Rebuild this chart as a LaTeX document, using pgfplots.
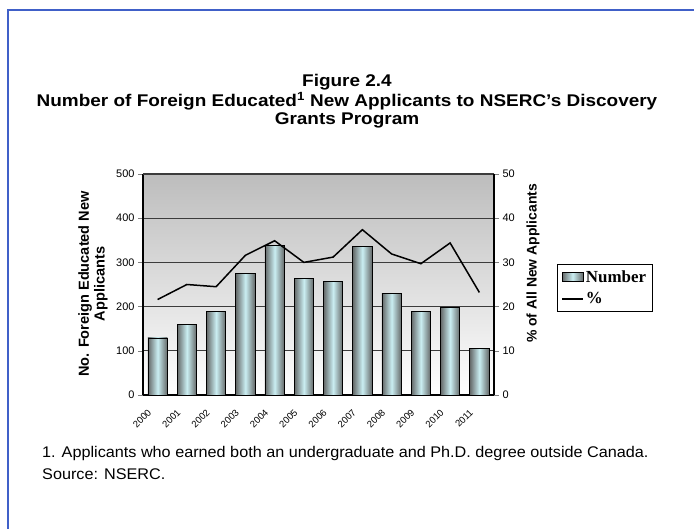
\documentclass[border=0pt]{standalone}
\usepackage{fontspec}
\setmainfont{Liberation Sans}
\newfontfamily\titlefont[FakeStretch=1.12]{Liberation Sans}
\newfontfamily\notefont[FakeStretch=1.05]{Liberation Sans}
\newfontfamily\legfont{Liberation Serif}
\usepackage{pgfplots}
\pgfplotsset{compat=1.18}
\definecolor{frameblue}{RGB}{64,96,200}
\definecolor{barcyan}{RGB}{202,238,242}
\definecolor{bardark}{RGB}{100,104,104}
\definecolor{gridgray}{RGB}{60,60,60}

\pgfplotsset{
  twoaxes/.style={
    at={(O)}, anchor=south west,
    width=351bp, height=221bp, scale only axis,
    xmin=-0.5, xmax=11.5,
    ymin=0,
    tick align=outside,
    major tick length=5bp,
    /pgf/number format/assume math mode=true,
    ticklabel style={font=\fontsize{11}{13}\selectfont},
  },
  cylbar/.style={ybar, bar width=19.3bp, bar shift=0pt, draw=black, line width=0.8bp,
    left color=bardark, right color=bardark, middle color=barcyan},
}

\begin{document}
\begin{tikzpicture}[x=1bp,y=1bp]
\useasboundingbox (0,0) rectangle (694,529);
\draw[frameblue, line width=2bp] (8,-5) -- (8,519) -- (700,519);
\coordinate (O) at (143,134);

% title
\node[font=\titlefont\bfseries\fontsize{17}{20}\selectfont] at (347,447) {Figure 2.4};
\node[font=\titlefont\bfseries\fontsize{17}{20}\selectfont] at (347,428) {Number of Foreign Educated\textsuperscript{1} New Applicants to NSERC’s Discovery};
\node[font=\titlefont\bfseries\fontsize{17}{20}\selectfont] at (347,409) {Grants Program};

% bars, left axis
\begin{axis}[twoaxes,
  ymax=500,
  ytick={0,100,...,500},
  axis y line*=left,
  axis x line*=bottom,
  ymajorgrids,
  grid style={gridgray, line width=1bp},
  axis background/.style={top color=black!26, bottom color=white},
  axis line style={black, line width=1.2bp},
  xtick={0,...,11},
  xticklabels={2000,2001,2002,2003,2004,2005,2006,2007,2008,2009,2010,2011},
  x tick style={draw=none},
  xticklabel style={xshift=-10.5bp, yshift=-7bp, rotate=45, anchor=north east,
    font=\fontsize{9.5}{11}\selectfont, inner sep=1bp},
]
\addplot[cylbar] coordinates {(0,129)};
\addplot[cylbar] coordinates {(1,160)};
\addplot[cylbar] coordinates {(2,188)};
\addplot[cylbar] coordinates {(3,275)};
\addplot[cylbar] coordinates {(4,339)};
\addplot[cylbar] coordinates {(5,264)};
\addplot[cylbar] coordinates {(6,257)};
\addplot[cylbar] coordinates {(7,337)};
\addplot[cylbar] coordinates {(8,230)};
\addplot[cylbar] coordinates {(9,190)};
\addplot[cylbar] coordinates {(10,199)};
\addplot[cylbar] coordinates {(11,105)};
\draw[gridgray, line width=1.2bp] (rel axis cs:0,1) -- (rel axis cs:1,1);
\end{axis}

% percentage line, right axis
\begin{axis}[twoaxes,
  ymax=50,
  ytick={0,10,...,50},
  axis y line*=right,
  axis x line=none,
  axis line style={black, line width=1.2bp},
  legend style={at={(1.1795,0.593)}, anchor=north west, draw=black, line width=0.8bp,
    font=\legfont\bfseries\fontsize{17}{19}\selectfont, inner xsep=4bp, inner ysep=4bp,
    row sep=5bp, cells={anchor=west}},
]
\addlegendimage{legend image code/.code={
    \draw[draw=black, line width=0.6bp, left color=bardark, right color=bardark, middle color=barcyan]
      (0bp,-4.5bp) rectangle (21bp,4.5bp);}}
\addlegendentry{Number}
\addplot[black, line width=1.5bp,
  legend image code/.code={\draw[black, line width=1.5bp] (0bp,0bp) -- (21bp,0bp);}]
  coordinates {(0,21.6) (1,25.0) (2,24.5) (3,31.6) (4,34.9) (5,30.0)
               (6,31.2) (7,37.4) (8,31.9) (9,29.7) (10,34.4) (11,23.2)};
\addlegendentry{\%}
\end{axis}

% axis titles
\node[rotate=90, align=center, font=\bfseries\fontsize{14.6}{16}\selectfont] at (93,245)
  {No. Foreign Educated New\\Applicants};
\node[rotate=90, font=\bfseries\fontsize{14}{16}\selectfont] at (533,265.5)
  {\% of All New Applicants};

% footnote
\node[anchor=west, inner sep=0pt, font=\notefont\fontsize{15.5}{17}\selectfont] at (42,75) {1. Applicants who earned both an undergraduate and Ph.D. degree outside Canada.};
\node[anchor=west, inner sep=0pt, font=\notefont\fontsize{15.5}{17}\selectfont] at (42,55) {Source: NSERC.};
\end{tikzpicture}
\end{document}
